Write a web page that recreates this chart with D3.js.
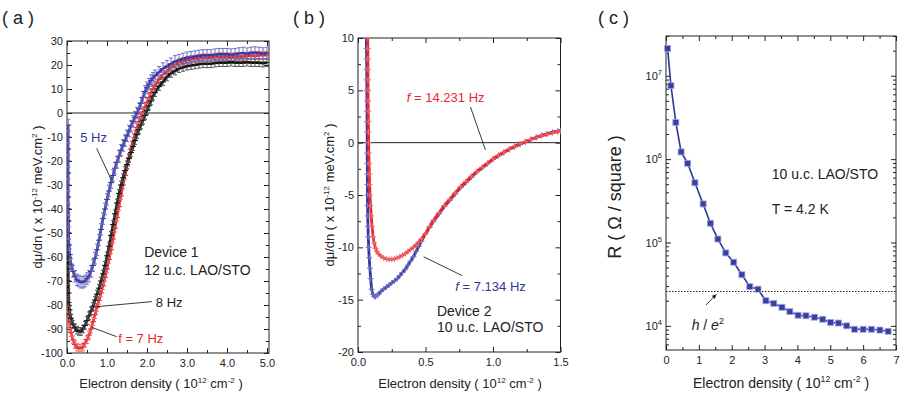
<!DOCTYPE html>
<html>
<head>
<meta charset="utf-8">
<script src="https://cdn.jsdelivr.net/npm/d3@7"></script>
<style>
body { margin: 0; background: #fff; }
svg { display: block; font-family: "Liberation Sans", Arial, sans-serif; }
.tick text { font-size: 11px; fill: #222; }
.tick line { stroke: #222; }
</style>
</head>
<body>
<svg id="chart" width="900" height="393"></svg>
<script>
// ---------- data ----------
// panel (a): dmu/dn vs electron density, device 1
const redA = [[0.02,-40],[0.02,-45],[0.02,-50],[0.02,-55],[0.02,-60],[0.025,-65],[0.025,-70],[0.03,-75],[0.035,-80],[0.04,-84],[0.06,-87],[0.08,-89.5],[0.1,-91.5],[0.15,-94.5],[0.2,-96.5],[0.25,-97.5],[0.3,-98],[0.35,-98],[0.4,-97.5],[0.45,-96],[0.5,-94.5],[0.55,-92.5],[0.6,-90],[0.65,-87],[0.7,-84],[0.75,-81],[0.8,-78],[0.85,-75],[0.9,-72],[0.95,-68.5],[1.0,-65],[1.05,-61],[1.1,-57],[1.15,-52.5],[1.2,-48],[1.25,-43.5],[1.3,-39],[1.35,-34.5],[1.4,-30],[1.45,-26],[1.5,-22],[1.55,-18.5],[1.6,-15],[1.65,-11.8],[1.7,-8.7],[1.75,-6],[1.8,-3.5],[1.85,-1.5],[1.9,0.5],[1.95,2.5],[2.0,4.5],[2.05,6.5],[2.1,8.5],[2.15,10],[2.2,11.5],[2.3,14],[2.4,16],[2.5,17.5],[2.6,19],[2.7,20],[2.8,21],[2.9,21.5],[3.0,22],[3.1,22.3],[3.2,22.5],[3.3,22.8],[3.4,23],[3.5,23],[3.6,23],[3.7,23.3],[3.8,23.5],[3.9,23.5],[4.0,23.5],[4.1,23.4],[4.2,23.5],[4.3,23.6],[4.4,23.5],[4.5,23.8],[4.6,24],[4.7,23.8],[4.8,24],[4.9,24.2],[5.0,24]]
const blackA = [[0.02,-40],[0.02,-45],[0.02,-50],[0.02,-55],[0.025,-60],[0.025,-65],[0.03,-70],[0.035,-75],[0.04,-79],[0.06,-82],[0.08,-84],[0.1,-85.5],[0.15,-88],[0.2,-89.5],[0.25,-90.5],[0.3,-91],[0.35,-91],[0.4,-90],[0.45,-88.5],[0.5,-86.5],[0.55,-84.5],[0.6,-82.5],[0.65,-80.5],[0.7,-78],[0.75,-75.5],[0.8,-73],[0.85,-70],[0.9,-67],[0.95,-63.5],[1.0,-59.5],[1.05,-55.5],[1.1,-51],[1.15,-46.5],[1.2,-42],[1.25,-37.5],[1.3,-33.5],[1.35,-30],[1.4,-27],[1.45,-24],[1.5,-21.5],[1.55,-19],[1.6,-16.5],[1.65,-14],[1.7,-11.5],[1.75,-9],[1.8,-7],[1.85,-5],[1.9,-3],[1.95,-1],[2.0,1],[2.05,3],[2.1,5],[2.15,7],[2.2,8.5],[2.3,11],[2.4,13],[2.5,15],[2.6,16.5],[2.7,17.5],[2.8,18.5],[2.9,19],[3.0,19.5],[3.1,19.8],[3.2,20],[3.3,20.3],[3.4,20.5],[3.5,20.5],[3.6,20.5],[3.7,20.8],[3.8,21],[3.9,21],[4.0,21],[4.1,21.2],[4.2,21],[4.3,21],[4.4,21],[4.5,21.2],[4.6,21],[4.7,21],[4.8,21],[4.9,20.8],[5.0,21]]
const blueA = [[0.03,-5],[0.03,-10],[0.03,-15],[0.03,-20],[0.03,-25],[0.03,-30],[0.03,-35],[0.03,-40],[0.035,-45],[0.04,-50],[0.05,-55],[0.07,-59],[0.1,-63],[0.15,-66],[0.2,-68],[0.25,-69.5],[0.3,-70],[0.35,-70.5],[0.4,-70.5],[0.45,-70],[0.5,-69],[0.55,-68],[0.6,-66],[0.65,-63.5],[0.7,-60.5],[0.75,-57],[0.8,-53],[0.85,-48.5],[0.9,-44],[0.95,-40],[1.0,-36],[1.05,-32.5],[1.1,-29],[1.15,-26],[1.2,-23],[1.25,-20.5],[1.3,-18],[1.35,-15.5],[1.4,-13.5],[1.45,-11.5],[1.5,-9.5],[1.55,-7.5],[1.6,-5.5],[1.65,-3.5],[1.7,-1.8],[1.75,0],[1.8,1.8],[1.85,4],[1.9,6.5],[1.95,9],[2.0,10.5],[2.05,12],[2.1,13.5],[2.15,14.5],[2.2,15.5],[2.3,17],[2.4,18.5],[2.5,19.5],[2.6,20.5],[2.7,21.5],[2.8,22],[2.9,22.5],[3.0,23],[3.1,23.2],[3.2,23.5],[3.3,23.8],[3.4,24],[3.5,24],[3.6,24],[3.7,24.3],[3.8,24.5],[3.9,24.5],[4.0,24.5],[4.1,24.3],[4.2,24.5],[4.3,24.8],[4.4,25],[4.5,24.7],[4.6,25],[4.7,25.2],[4.8,25],[4.9,24.8],[5.0,25]]
const errA = { red: 1.6, black: 1.6, blue: 2.4 }

// panel (b): device 2, two frequencies
const blueB = [[0.062,10],[0.063,9],[0.064,8],[0.065,7],[0.065,6],[0.066,5],[0.066,4],[0.067,3],[0.067,2],[0.068,1],[0.068,0],[0.068,-1],[0.069,-2],[0.069,-3],[0.07,-4],[0.07,-5],[0.071,-6],[0.072,-7],[0.074,-8],[0.076,-9],[0.079,-10],[0.083,-11],[0.088,-12],[0.094,-13],[0.101,-14],[0.11,-14.5],[0.12,-14.7],[0.13,-14.7],[0.14,-14.6],[0.15,-14.5],[0.17,-14.2],[0.19,-14.0],[0.21,-13.8],[0.23,-13.6],[0.25,-13.4],[0.27,-13.2],[0.29,-13.0],[0.31,-12.7],[0.33,-12.4],[0.35,-12.1],[0.37,-11.7],[0.39,-11.3],[0.41,-10.9],[0.43,-10.4],[0.45,-9.9],[0.47,-9.4],[0.5,-8.7],[0.53,-8.1],[0.56,-7.5],[0.6,-6.8],[0.64,-6.1],[0.68,-5.5],[0.72,-4.9],[0.76,-4.3],[0.8,-3.8],[0.84,-3.3],[0.88,-2.8],[0.92,-2.4],[0.96,-2.0],[1.0,-1.6],[1.04,-1.25],[1.08,-0.95],[1.12,-0.65],[1.16,-0.4],[1.2,-0.15],[1.24,0.05],[1.28,0.3],[1.32,0.5],[1.36,0.7],[1.4,0.85],[1.44,1.0],[1.48,1.1],[1.5,1.15]]
const redB = [[0.072,10],[0.073,9],[0.073,8],[0.074,7],[0.074,6],[0.075,5],[0.075,4],[0.076,3],[0.077,2],[0.078,1],[0.079,0],[0.08,-1],[0.082,-2],[0.084,-3],[0.086,-4],[0.089,-5],[0.093,-6],[0.098,-7],[0.104,-8],[0.112,-9],[0.12,-9.6],[0.13,-10.1],[0.14,-10.4],[0.15,-10.6],[0.17,-10.85],[0.19,-11.0],[0.21,-11.1],[0.23,-11.15],[0.25,-11.15],[0.27,-11.1],[0.29,-11.0],[0.31,-10.9],[0.33,-10.75],[0.35,-10.6],[0.37,-10.4],[0.39,-10.2],[0.41,-10.0],[0.43,-9.75],[0.45,-9.5],[0.47,-9.2],[0.5,-8.7],[0.53,-8.0],[0.56,-7.4],[0.6,-6.7],[0.64,-6.0],[0.68,-5.4],[0.72,-4.8],[0.76,-4.2],[0.8,-3.7],[0.84,-3.2],[0.88,-2.75],[0.92,-2.35],[0.96,-1.95],[1.0,-1.55],[1.04,-1.2],[1.08,-0.9],[1.12,-0.6],[1.16,-0.35],[1.2,-0.1],[1.24,0.1],[1.28,0.3],[1.32,0.5],[1.36,0.65],[1.4,0.8],[1.44,0.95],[1.48,1.05],[1.5,1.1]]

// panel (c): sheet resistance vs electron density
const densC = [0.05,0.15,0.3,0.46,0.66,0.88,1.13,1.35,1.58,1.82,2.06,2.31,2.55,2.8,3.04,3.28,3.53,3.77,4.02,4.26,4.52,4.77,5.01,5.25,5.5,5.74,6.0,6.25,6.51,6.76]
const resC = [2.13e7,7.6e6,2.75e6,1.22e6,8.9e5,5.2e5,2.9e5,1.7e5,1.1e5,7.5e4,5.8e4,4.1e4,2.95e4,2.75e4,2.0e4,1.86e4,1.67e4,1.48e4,1.34e4,1.32e4,1.27e4,1.2e4,1.1e4,1.08e4,1.0e4,9.1e3,9.1e3,9.1e3,8.9e3,8.6e3]
const quantumR = 25813 // h / e^2

const aXTicks = [0, 1, 2, 3, 4, 5]
const aYTicks = [30, 20, 10, 0, -10, -20, -30, -40, -50, -60, -70, -80, -90, -100]
const bXTicks = [0, 0.5, 1.0, 1.5]
const bYTicks = [10, 5, 0, -5, -10, -15, -20]
const cXTicks = [0, 1, 2, 3, 4, 5, 6, 7]
const cYTicks = [1e4, 1e5, 1e6, 1e7]

const RED = '#e8262c'
const BLUE = '#34359c'
const INK = '#222'

const svg = d3.select('#chart')

// text with superscripts: parts = [[text, isSup], ...]
function richText (sel, parts, size) {
    parts.forEach(([t, sup], i) => {
        const prevSup = i > 0 && parts[i - 1][1]
        const ts = sel.append('tspan').text(t)
        if (sup) ts.attr('dy', -size * 0.42).attr('font-size', size * 0.62)
        else if (prevSup) ts.attr('dy', size * 0.42)
    })
    return sel
}

function rangeStep (a, b, s) {
    const out = []
    for (let v = a; v <= b + 1e-9; v += s) out.push(+v.toFixed(4))
    return out
}

function drawFrame (g, x, y, o) {
    const [x0, x1] = x.range()
    const [y0, y1] = y.range()
    const tick = (axis, tr, vals, size, fmt, pad) => {
        const ax = g.append('g').attr('transform', tr)
            .call(axis.tickValues(vals).tickSize(size).tickPadding(pad || 4).tickFormat(fmt || ''))
        ax.select('.domain').remove()
        return ax
    }
    tick(d3.axisBottom(x), `translate(0,${y0})`, o.xMajor, -5, o.xFmt, 6)
    tick(d3.axisBottom(x), `translate(0,${y0})`, o.xMinor, -3)
    tick(d3.axisTop(x), `translate(0,${y1})`, o.xMajor, -5)
    tick(d3.axisTop(x), `translate(0,${y1})`, o.xMinor, -3)
    const left = tick(d3.axisLeft(y), `translate(${x0},0)`, o.yMajor, -5, o.yFmt, 4)
    tick(d3.axisLeft(y), `translate(${x0},0)`, o.yMinor, -3)
    tick(d3.axisRight(y), `translate(${x1},0)`, o.yMajor, -5)
    tick(d3.axisRight(y), `translate(${x1},0)`, o.yMinor, -3)
    g.append('rect')
        .attr('x', x0).attr('y', y1)
        .attr('width', x1 - x0).attr('height', y0 - y1)
        .attr('fill', 'none').attr('stroke', INK).attr('stroke-width', 1)
    return left
}

function clipFor (g, id, x, y) {
    const [x0, x1] = x.range()
    const [y0, y1] = y.range()
    g.append('clipPath').attr('id', id)
        .append('rect').attr('x', x0).attr('y', y1).attr('width', x1 - x0).attr('height', y0 - y1)
    return g.append('g').attr('clip-path', `url(#${id})`)
}

// '+' markers with vertical error bars, plus a line through them
function drawErrSeries (g, data, x, y, color, light, err) {
    g.append('path')
        .datum(data)
        .attr('fill', 'none')
        .attr('stroke', color)
        .attr('stroke-width', 2.6)
        .attr('d', d3.line().x(d => x(d[0])).y(d => y(d[1])))
    const pts = g.append('g').selectAll('g').data(data).join('g')
        .attr('transform', d => `translate(${x(d[0])},${y(d[1])})`)
        .attr('stroke', light)
        .attr('stroke-width', 1)
    pts.append('line').attr('y1', d => y(d[1] - err) - y(d[1])).attr('y2', d => y(d[1] + err) - y(d[1]))
    pts.append('line').attr('x1', -2).attr('x2', 2).attr('y1', d => y(d[1] + err) - y(d[1])).attr('y2', d => y(d[1] + err) - y(d[1]))
    pts.append('line').attr('x1', -2).attr('x2', 2).attr('y1', d => y(d[1] - err) - y(d[1])).attr('y2', d => y(d[1] - err) - y(d[1]))
    pts.append('line').attr('x1', -3).attr('x2', 3).attr('stroke', color)
}

function drawPlusSeries (g, data, x, y, color, light) {
    g.append('path')
        .datum(data)
        .attr('fill', 'none')
        .attr('stroke', color)
        .attr('stroke-width', 2.8)
        .attr('d', d3.line().x(d => x(d[0])).y(d => y(d[1])))
    const pts = g.append('g').selectAll('g').data(data).join('g')
        .attr('transform', d => `translate(${x(d[0])},${y(d[1])})`)
        .attr('stroke', light)
        .attr('stroke-width', 1)
    pts.append('line').attr('x1', -3).attr('x2', 3)
    pts.append('line').attr('y1', -3).attr('y2', 3)
}

function note (g, x, y, txt, color, size, italicF) {
    const t = g.append('text').attr('x', x).attr('y', y)
        .attr('fill', color).attr('font-size', size)
    if (italicF) {
        t.append('tspan').attr('font-style', 'italic').text('f')
        t.append('tspan').text(txt)
    } else t.text(txt)
    return t
}

function pointer (g, x, y, a, b) {
    g.append('line')
        .attr('x1', x(a[0])).attr('y1', y(a[1]))
        .attr('x2', x(b[0])).attr('y2', y(b[1]))
        .attr('stroke', INK).attr('stroke-width', 0.9)
}

const yTitle = (tx, ty, size) => svg.append('text')
    .attr('transform', `translate(${tx},${ty}) rotate(-90)`)
    .attr('text-anchor', 'middle').attr('font-size', size).attr('fill', INK)
const xTitle = (tx, ty, size) => svg.append('text')
    .attr('x', tx).attr('y', ty)
    .attr('text-anchor', 'middle').attr('font-size', size).attr('fill', INK)

const densParts = [['Electron density ( 10', 0], ['12', 1], [' cm', 0], ['-2', 1], [' )', 0]]
const dmuParts = [['d\u03bc/dn ( x 10', 0], ['-12', 1], [' meV.cm', 0], ['2', 1], [' )', 0]]

// ---------- panel (a) ----------
{
    const g = svg.append('g')
    const x = d3.scaleLinear().domain([0, 5.05]).range([67, 269])
    const y = d3.scaleLinear().domain([-100, 30]).range([353, 41])
    drawFrame(g, x, y, {
        xMajor: aXTicks, xMinor: rangeStep(0.5, 5, 1), xFmt: d3.format('.1f'),
        yMajor: aYTicks, yMinor: rangeStep(-95, 25, 10), yFmt: d => String(d)
    })
    const plot = clipFor(g, 'clipA', x, y)
    plot.append('line').attr('x1', x(0)).attr('x2', x(5.05)).attr('y1', y(0)).attr('y2', y(0))
        .attr('stroke', INK).attr('stroke-width', 1)
    drawErrSeries(plot, redA, x, y, RED, '#f0686c', errA.red)
    drawErrSeries(plot, blackA, x, y, '#111', '#555', errA.black)
    drawErrSeries(plot, blueA, x, y, BLUE, '#6f70c0', errA.blue)

    note(g, x(0.33), y(-12.1), '5 Hz', BLUE, 13)
    pointer(g, x, y, [0.74, -14.7], [1.11, -27.9])
    note(g, x(1.93), y(-60), 'Device 1', INK, 14)
    note(g, x(1.93), y(-67.5), '12 u.c. LAO/STO', INK, 14)
    note(g, x(2.22), y(-80.8), '8 Hz', INK, 13)
    pointer(g, x, y, [0.74, -80.7], [2.12, -78.6])
    note(g, x(1.28), y(-95.8), 'f = 7 Hz', RED, 13)
    pointer(g, x, y, [0.62, -89.3], [1.24, -93.2])

    richText(xTitle(161, 388, 13), densParts, 13)
    richText(yTitle(42, 197, 13), dmuParts, 13)
    svg.append('text').attr('x', 2).attr('y', 24).attr('font-size', 18).attr('fill', INK).text('( a )')
}

// ---------- panel (b) ----------
{
    const g = svg.append('g')
    const x = d3.scaleLinear().domain([0, 1.5]).range([358, 560.5])
    const y = d3.scaleLinear().domain([-20, 10]).range([352, 38])
    drawFrame(g, x, y, {
        xMajor: bXTicks, xMinor: rangeStep(0.25, 1.25, 0.5), xFmt: d3.format('.1f'),
        yMajor: bYTicks, yMinor: rangeStep(-17.5, 7.5, 5), yFmt: d => String(d)
    })
    const plot = clipFor(g, 'clipB', x, y)
    plot.append('line').attr('x1', x(0)).attr('x2', x(1.5)).attr('y1', y(0)).attr('y2', y(0))
        .attr('stroke', INK).attr('stroke-width', 1)
    drawPlusSeries(plot, blueB, x, y, BLUE, '#7072c4')
    drawPlusSeries(plot, redB, x, y, RED, '#f26a6e')

    note(g, x(0.362), y(3.84), ' = 14.231 Hz', RED, 13, true)
    pointer(g, x, y, [0.833, 3.41], [0.944, -0.7])
    note(g, x(0.721), y(-14.2), ' = 7.134 Hz', BLUE, 13, true)
    pointer(g, x, y, [0.486, -10.9], [0.771, -12.7])
    note(g, x(0.585), y(-16.6), 'Device 2', INK, 14)
    note(g, x(0.585), y(-18.1), '10 u.c. LAO/STO', INK, 14)

    richText(xTitle(460, 388, 13), densParts, 13)
    richText(yTitle(334, 195, 13), dmuParts, 13)
    svg.append('text').attr('x', 293).attr('y', 24).attr('font-size', 18).attr('fill', INK).text('( b )')
}

// ---------- panel (c) ----------
{
    const g = svg.append('g')
    const x = d3.scaleLinear().domain([0, 7]).range([666, 896])
    const y = d3.scaleLog().domain([5130, 3.0e7]).range([350, 36])
    const [lo, hi] = y.domain()
    const yMinor = []
    for (let e = 3; e <= 7; e++) {
        for (let k = 2; k <= 9; k++) {
            const v = k * Math.pow(10, e)
            if (v >= lo && v <= hi) yMinor.push(v)
        }
    }
    const left = drawFrame(g, x, y, {
        xMajor: cXTicks, xMinor: rangeStep(0.5, 6.5, 1), xFmt: d => String(d),
        yMajor: cYTicks, yMinor: yMinor, yFmt: () => ''
    })
    left.selectAll('.tick text').each(function (d) {
        const t = d3.select(this)
        t.append('tspan').text('10')
        t.append('tspan').attr('dy', -5).attr('font-size', 7.5).text(Math.round(Math.log10(d)))
    })

    const pts = d3.zip(densC, resC)
    g.append('line')
        .attr('x1', x(0)).attr('x2', x(7))
        .attr('y1', y(quantumR)).attr('y2', y(quantumR))
        .attr('stroke', INK).attr('stroke-width', 1).attr('stroke-dasharray', '1.5,1.5')
    g.append('path')
        .datum(pts)
        .attr('fill', 'none').attr('stroke', '#2e3494').attr('stroke-width', 1.6)
        .attr('d', d3.line().x(d => x(d[0])).y(d => y(d[1])))
    g.append('g').selectAll('rect').data(pts).join('rect')
        .attr('x', d => x(d[0]) - 3).attr('y', d => y(d[1]) - 3)
        .attr('width', 6).attr('height', 6)
        .attr('fill', '#3540a0').attr('stroke', '#a3a8da').attr('stroke-width', 0.8)

    note(g, x(3.22), y(5.8e5), '10 u.c. LAO/STO', INK, 14)
    note(g, x(3.22), y(2.2e5), 'T = 4.2 K', INK, 14)
    const he = g.append('text').attr('x', x(0.78)).attr('y', y(8.9e3))
        .attr('font-size', 14).attr('fill', INK)
    he.append('tspan').attr('font-style', 'italic').text('h')
    he.append('tspan').text(' / ')
    he.append('tspan').attr('font-style', 'italic').text('e')
    he.append('tspan').attr('dy', -6).attr('font-size', 9).text('2')
    g.append('defs').append('marker').attr('id', 'arrowC')
        .attr('viewBox', '0 0 6 6').attr('refX', 5).attr('refY', 3)
        .attr('markerWidth', 5).attr('markerHeight', 5).attr('orient', 'auto')
        .append('path').attr('d', 'M0,0L6,3L0,6Z').attr('fill', INK)
    g.append('line')
        .attr('x1', x(1.22)).attr('y1', y(1.78e4))
        .attr('x2', x(1.52)).attr('y2', y(2.36e4))
        .attr('stroke', INK).attr('stroke-width', 0.9)
        .attr('marker-end', 'url(#arrowC)')

    richText(xTitle(781, 388, 14), densParts, 14)
    yTitle(621, 197, 18).text('R ( \u03a9 / square )')
    svg.append('text').attr('x', 598).attr('y', 24).attr('font-size', 18).attr('fill', INK).text('( c )')
}
</script>
</body>
</html>
